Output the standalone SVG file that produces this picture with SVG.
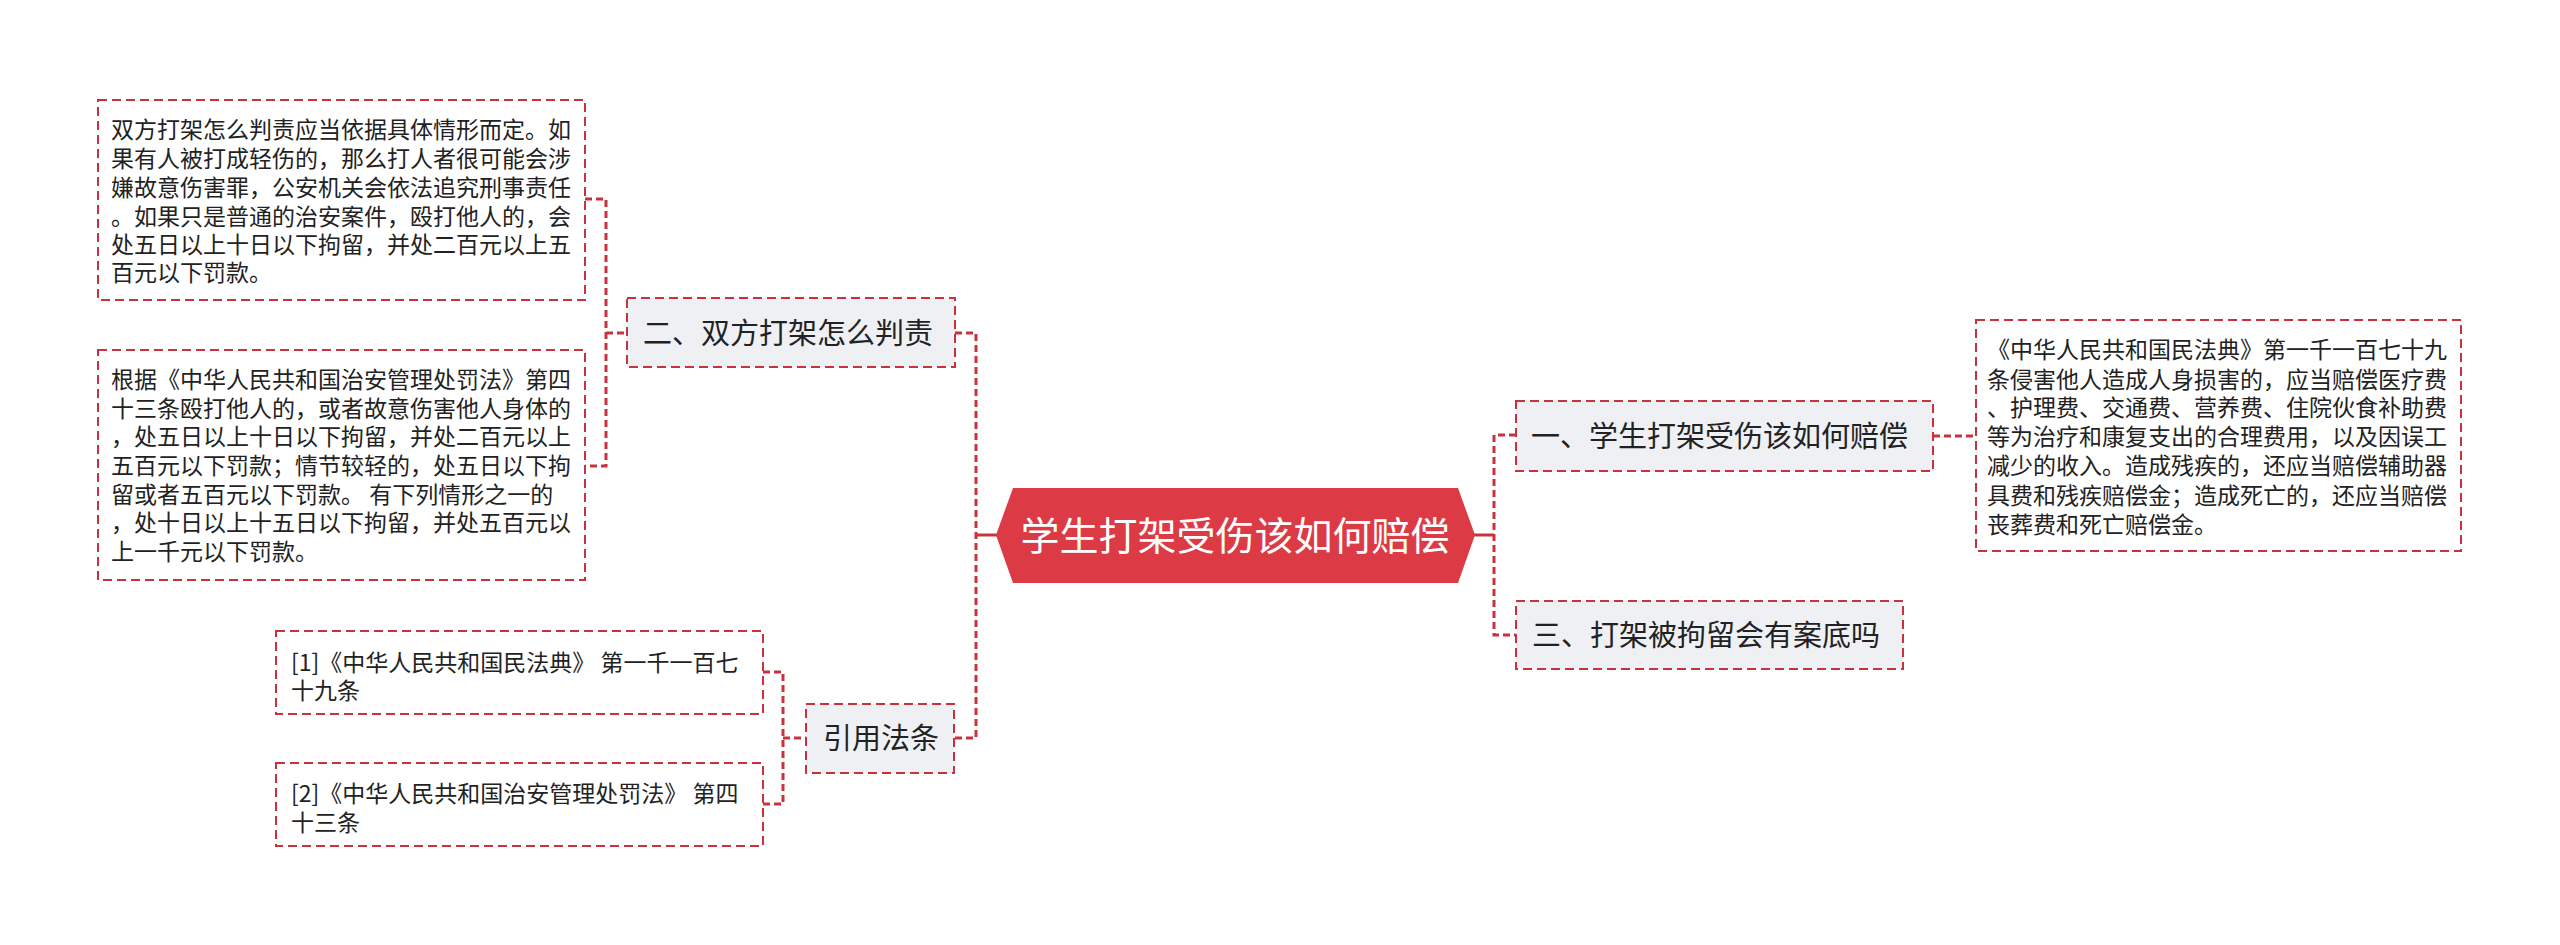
<svg xmlns="http://www.w3.org/2000/svg" width="2560" height="945" viewBox="0 0 2560 945">
<style>
text{font-family:"Noto Sans CJK SC","Noto Sans",sans-serif;fill:#222}
.detail{fill:#fff;stroke:#c8323d;stroke-width:2;stroke-dasharray:9,5}
.topic{fill:#eef0f4;stroke:#c8323d;stroke-width:2;stroke-dasharray:9,5}
.dt{font-size:23px}
.tt{font-size:29px}
.conn{fill:none;stroke:#c8323d;stroke-width:3;stroke-dasharray:7,4}
.solid{fill:none;stroke:#c8323d;stroke-width:3}
</style>
<rect width="2560" height="945" fill="#fff"/>
<g id="connectors">
<polyline class="conn" points="585,199 606,199 606,466 585,466"/>
<line class="conn" x1="606" y1="333" x2="627" y2="333"/>
<polyline class="conn" points="763,672 783,672 783,804 763,804"/>
<line class="conn" x1="783" y1="738" x2="806" y2="738"/>
<polyline class="conn" points="955,333 976,333 976,738 954,738"/>
<line class="solid" x1="976" y1="535" x2="997" y2="535"/>
<line class="solid" x1="1474" y1="535" x2="1494" y2="535"/>
<polyline class="conn" points="1516,435 1494,435 1494,635 1516,635"/>
<line class="conn" x1="1933" y1="436" x2="1976" y2="436"/>
</g>
<g id="root">
<polygon points="996,535 1013,488 1458,488 1475,535 1458,583 1013,583" fill="#dc3b45"/>
<text x="1235" y="550" font-size="39" text-anchor="middle" style="fill:#fff">学生打架受伤该如何赔偿</text>
</g>
<g id="topic-2">
<rect class="topic" x="627" y="298" width="328" height="69"/>
<text class="tt" x="643" y="344">二、双方打架怎么判责</text>
</g>
<g id="detail-2a">
<rect class="detail" x="98" y="100" width="487" height="200"/>
<text class="dt" x="111" y="138">双方打架怎么判责应当依据具体情形而定。如</text>
<text class="dt" x="111" y="167">果有人被打成轻伤的，那么打人者很可能会涉</text>
<text class="dt" x="111" y="196">嫌故意伤害罪，公安机关会依法追究刑事责任</text>
<text class="dt" x="111" y="225">。如果只是普通的治安案件，殴打他人的，会</text>
<text class="dt" x="111" y="253">处五日以上十日以下拘留，并处二百元以上五</text>
<text class="dt" x="111" y="281">百元以下罚款。</text>
</g>
<g id="detail-2b">
<rect class="detail" x="98" y="350" width="487" height="230"/>
<text class="dt" x="111" y="388">根据《中华人民共和国治安管理处罚法》第四</text>
<text class="dt" x="111" y="417">十三条殴打他人的，或者故意伤害他人身体的</text>
<text class="dt" x="111" y="445">，处五日以上十日以下拘留，并处二百元以上</text>
<text class="dt" x="111" y="474">五百元以下罚款；情节较轻的，处五日以下拘</text>
<text class="dt" x="111" y="503" xml:space="preserve">留或者五百元以下罚款。 有下列情形之一的</text>
<text class="dt" x="111" y="531">，处十日以上十五日以下拘留，并处五百元以</text>
<text class="dt" x="111" y="560">上一千元以下罚款。</text>
</g>
<g id="topic-ref">
<rect class="topic" x="806" y="704" width="148" height="69"/>
<text class="tt" x="823" y="749">引用法条</text>
</g>
<g id="ref-1">
<rect class="detail" x="276" y="631" width="487" height="83"/>
<text class="dt" x="291" y="671" xml:space="preserve">[1]《中华人民共和国民法典》 第一千一百七</text>
<text class="dt" x="291" y="699">十九条</text>
</g>
<g id="ref-2">
<rect class="detail" x="276" y="763" width="487" height="83"/>
<text class="dt" x="291" y="802" xml:space="preserve">[2]《中华人民共和国治安管理处罚法》 第四</text>
<text class="dt" x="291" y="831">十三条</text>
</g>
<g id="topic-1">
<rect class="topic" x="1516" y="401" width="417" height="70"/>
<text class="tt" x="1531" y="447">一、学生打架受伤该如何赔偿</text>
</g>
<g id="detail-1">
<rect class="detail" x="1976" y="320" width="485" height="231"/>
<text class="dt" x="1987" y="358">《中华人民共和国民法典》第一千一百七十九</text>
<text class="dt" x="1987" y="388">条侵害他人造成人身损害的，应当赔偿医疗费</text>
<text class="dt" x="1987" y="416">、护理费、交通费、营养费、住院伙食补助费</text>
<text class="dt" x="1987" y="445">等为治疗和康复支出的合理费用，以及因误工</text>
<text class="dt" x="1987" y="474">减少的收入。造成残疾的，还应当赔偿辅助器</text>
<text class="dt" x="1987" y="504">具费和残疾赔偿金；造成死亡的，还应当赔偿</text>
<text class="dt" x="1987" y="533">丧葬费和死亡赔偿金。</text>
</g>
<g id="topic-3">
<rect class="topic" x="1516" y="601" width="387" height="68"/>
<text class="tt" x="1532" y="646">三、打架被拘留会有案底吗</text>
</g>
</svg>
